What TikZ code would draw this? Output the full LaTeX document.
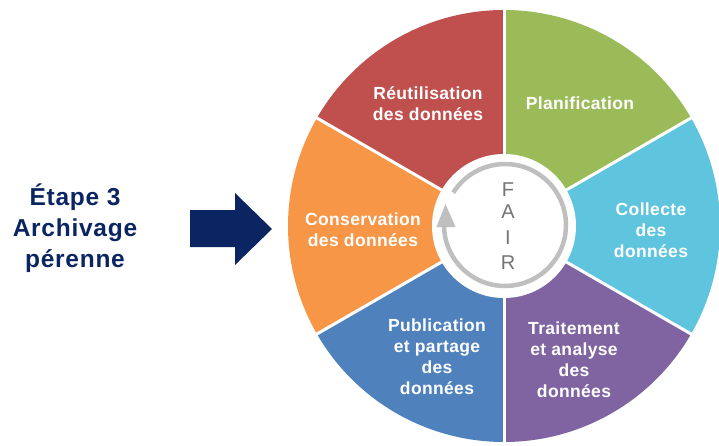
\documentclass[tikz,border=0pt]{standalone}
\usepackage{fontspec}
\setmainfont{Liberation Sans}
\newfontfamily\lblfont[LetterSpace=2]{Liberation Sans}
\newfontfamily\leftfont[LetterSpace=3]{Liberation Sans}
\definecolor{secred}{HTML}{C0504D}
\definecolor{secgreen}{HTML}{9BBB59}
\definecolor{seccyan}{HTML}{5FC4DE}
\definecolor{secpurple}{HTML}{8064A2}
\definecolor{secblue}{HTML}{4F81BD}
\definecolor{secorange}{HTML}{F79646}
\definecolor{navy}{HTML}{0B2462}
\definecolor{ringgray}{HTML}{BFBFBF}
\definecolor{fairgray}{HTML}{747474}
\tikzset{
  seclabel/.style={text=white, align=center, font=\lblfont\bfseries\fontsize{17.5}{21}\selectfont, inner sep=0pt},
  fairletter/.style={text=fairgray, font=\fontsize{20}{20}\selectfont, inner sep=0pt},
  sepline/.style={white, line width=3pt},
}
\begin{document}
\begin{tikzpicture}[x=1pt,y=1pt]
\useasboundingbox (0,0) rectangle (719,445);
\clip (0,0) rectangle (719,445);
\coordinate (c) at (504,219);
\def\R{216}
% sectors
\fill[secgreen]  (c) -- ++(30:\R)  arc[start angle=30,  end angle=90,  radius=\R] -- cycle;
\fill[secred]    (c) -- ++(90:\R)  arc[start angle=90,  end angle=150, radius=\R] -- cycle;
\fill[secorange] (c) -- ++(150:\R) arc[start angle=150, end angle=210, radius=\R] -- cycle;
\fill[secblue]   (c) -- ++(210:\R) arc[start angle=210, end angle=270, radius=\R] -- cycle;
\fill[secpurple] (c) -- ++(270:\R) arc[start angle=270, end angle=330, radius=\R] -- cycle;
\fill[seccyan]   (c) -- ++(-30:\R) arc[start angle=-30, end angle=30,  radius=\R] -- cycle;
% separators
\foreach \a in {30,90,150,210,270,330} \draw[sepline] (c) -- ++(\a:\R+4);
% inner disk
\fill[white] (c) circle[radius=72];
% ring
\coordinate (rc) at (505,220);
\draw[ringgray, line width=4.5pt] (rc) ++(148:61) arc[start angle=148, end angle=-178, radius=61];
\fill[ringgray] (436.5,218) -- (455.5,218) -- (445.5,241) -- cycle;
% FAIR
\node[fairletter] (f) at (508,255.5) {F};
\node[fairletter] (a) at (508,233.5) {A};
\node[fairletter] (i) at (508,207.5) {I};
\node[fairletter] (r) at (508,182) {R};
% labels
\node[seclabel] (reuse)   at (428,341) {Réutilisation\\des données};
\node[seclabel] (plan)    at (580,342) {Planification};
\node[seclabel] (collect) at (651,215) {Collecte\\des\\données};
\node[seclabel] (trait)   at (574,85)  {Traitement\\et analyse\\des\\données};
\node[seclabel] (pub)     at (437,88)  {Publication\\et partage\\des\\données};
\node[seclabel] (cons)    at (363,215) {Conservation\\des données};
% left text and arrow
\node[text=navy, align=center, inner sep=0pt, font=\leftfont\bfseries\fontsize{24.5}{31}\selectfont] (etape) at (75,217) {Étape 3\\Archivage\\pérenne};
\fill[navy] (190,235) -- (235,235) -- (235,252) -- (272,216) -- (235,180) -- (235,198) -- (190,198) -- cycle;
\end{tikzpicture}
\end{document}
